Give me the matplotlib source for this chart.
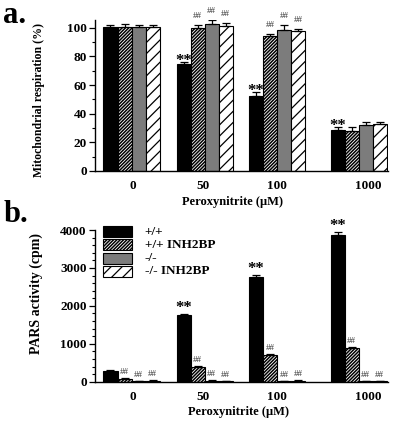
import numpy as np
import matplotlib
matplotlib.use("Agg")
import matplotlib.pyplot as plt
from matplotlib.patches import Rectangle

plt.rcParams['font.family'] = ['Liberation Serif', 'DejaVu Serif']
plt.rcParams['font.weight'] = 'bold'
plt.rcParams['hatch.linewidth'] = 0.9

groups = ['0', '50', '100', '1000']
series = ['+/+', '+/+ INH2BP', '-/-', '-/- INH2BP']

# panel a: mitochondrial respiration (%)
resp = [
    [100.5, 74.7, 52.4, 28.4],
    [100.5, 99.6, 94.4, 28.0],
    [100.5, 102.4, 98.4, 31.9],
    [100.5, 101.4, 97.7, 32.6],
]
resp_err = [
    [1.5, 1.5, 2.5, 2.0],
    [2.5, 2.5, 1.5, 3.0],
    [1.5, 3.0, 3.5, 2.5],
    [1.5, 2.0, 1.5, 1.5],
]
# panel b: PARS activity (cpm)
pars = [
    [280, 1770, 2750, 3870],
    [80, 380, 700, 890],
    [20, 30, 25, 20],
    [30, 15, 30, 20],
]
pars_err = [
    [20, 15, 60, 80],
    [10, 25, 20, 25],
    [5, 5, 5, 5],
    [5, 5, 5, 5],
]
stars_a = [[0, 1, 1, 1], [0, 0, 0, 0], [0, 0, 0, 0], [0, 0, 0, 0]]
hash_a = [[0, 0, 0, 0], [0, 1, 1, 0], [0, 1, 1, 0], [0, 1, 1, 0]]
stars_b = [[0, 1, 1, 1], [0, 0, 0, 0], [0, 0, 0, 0], [0, 0, 0, 0]]
hash_b = [[0, 0, 0, 0], [1, 1, 1, 1], [1, 1, 1, 1], [1, 1, 1, 1]]

centers = np.array([0.0, 1.0, 1.99, 3.11])
label_pos = [0.02, 0.98, 1.99, 3.24]
w = 0.192
faces = ['black', 'white', '#7c7c7c', 'white']
hatches = [None, '//////////', None, '///']
hatch_lw = [0.9, 1.1, 0.9, 0.9]
PX = 72.0 / 100  # points per pixel


def set_hlw(p, lw):
    if hasattr(p, 'set_hatch_linewidth'):
        p.set_hatch_linewidth(lw)


def draw(ax, vals, errs, stars, hashes, ymax, star_gap, hash_gap):
    for i in range(4):
        x = centers + (i - 1.5) * w
        v = np.array(vals[i])
        e = np.array(errs[i])
        bars = ax.bar(x, v, w, color=faces[i], edgecolor='black', linewidth=0.8,
                      hatch=hatches[i], zorder=2)
        for p in bars:
            set_hlw(p, hatch_lw[i])
        ax.errorbar(x, v, yerr=[np.zeros(4), e], fmt='none', ecolor='black',
                    elinewidth=0.9, capsize=3, capthick=0.9, zorder=3)
        for j in range(4):
            top = v[j] + e[j]
            if stars[i][j]:
                ax.annotate('**', (x[j], top), xytext=(0, (star_gap - 4.2) * PX),
                            textcoords='offset points', ha='center', va='baseline',
                            fontsize=12, fontweight='bold', annotation_clip=False)
            if hashes[i][j]:
                ax.annotate('##', (x[j], top), xytext=(0, hash_gap * PX),
                            textcoords='offset points', ha='center', va='baseline',
                            fontsize=6.5, fontweight='normal', color='#333333',
                            annotation_clip=False)
    ax.set_xlim(-0.5, 3.51)
    ax.set_ylim(0, ymax)
    ax.set_xticks(label_pos)
    ax.set_xticklabels(groups, fontsize=9.5, fontweight='bold')
    ax.tick_params(axis='x', length=0, pad=6.5)
    ax.tick_params(axis='y', which='major', direction='out', length=4,
                   width=0.9, labelsize=9.5, pad=2)
    ax.tick_params(axis='y', which='minor', direction='out', length=2, width=0.8)
    for s in ['top', 'right']:
        ax.spines[s].set_visible(False)
    for s in ['left', 'bottom']:
        ax.spines[s].set_linewidth(1.0)
    for lab in ax.get_yticklabels():
        lab.set_fontweight('bold')


fig = plt.figure(figsize=(4, 4.26), dpi=100)

ax1 = fig.add_axes([0.2375, 0.5986, 0.7325, 0.3545])
draw(ax1, resp, resp_err, stars_a, hash_a, 105.5, 1.5, 7)
ax1.set_yticks(np.arange(0, 101, 20))
ax1.set_yticks(np.arange(0, 101, 10), minor=True)
ax1.set_ylabel('Mitochondrial respiration (%)', fontsize=8.5, fontweight='bold')
ax1.yaxis.set_label_coords(-0.17, 0.47)
ax1.set_xlabel('Peroxynitrite (\u03bcM)', fontsize=9, fontweight='bold')
ax1.xaxis.set_label_coords(0.47, -0.168)

ax2 = fig.add_axes([0.2375, 0.104, 0.7325, 0.356])
draw(ax2, pars, pars_err, stars_b, hash_b, 4000, 6, 4)
ax2.set_yticks(np.arange(0, 4001, 1000))
ax2.set_yticks(np.arange(0, 4001, 200), minor=True)
ax2.set_ylabel('PARS activity (cpm)', fontsize=10, fontweight='bold')
ax2.yaxis.set_label_coords(-0.178, 0.58)
ax2.set_xlabel('Peroxynitrite (\u03bcM)', fontsize=9, fontweight='bold')
ax2.xaxis.set_label_coords(0.49, -0.16)

# legend drawn by hand
for i, name in enumerate(series):
    y0 = 1.026 - i * 0.0877
    r = Rectangle((0.027, y0 - 0.072), 0.1, 0.072, transform=ax2.transAxes,
                  facecolor=faces[i], edgecolor='black', linewidth=0.8,
                  hatch=hatches[i], clip_on=False)
    set_hlw(r, hatch_lw[i])
    ax2.add_patch(r)
    ax2.text(0.17, y0 - 0.036, name, transform=ax2.transAxes, ha='left',
             va='center', fontsize=9.5, fontweight='bold')

fig.text(0.008, 0.998, 'a.', fontsize=22, fontweight='bold', va='top', ha='left')
fig.text(0.008, 0.53, 'b.', fontsize=22, fontweight='bold', va='top', ha='left')

fig.savefig('out.png', dpi=100)
